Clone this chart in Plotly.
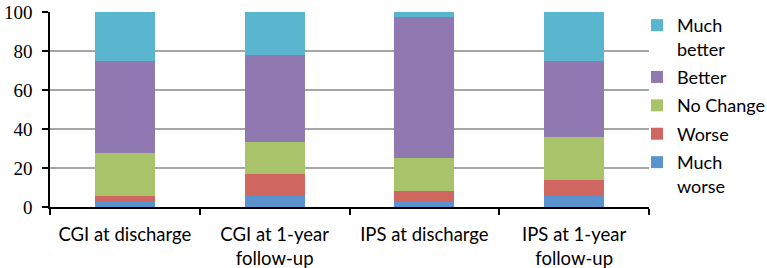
import plotly.graph_objects as go

categories = ["CGI at discharge", "CGI at 1-year<br>follow-up", "IPS at discharge", "IPS at 1-year<br>follow-up"]
much_worse = [2.8, 5.6, 2.8, 5.6]
worse = [2.8, 11.1, 5.6, 8.3]
no_change = [22.2, 16.7, 16.7, 22.2]
better = [47.2, 44.4, 72.2, 38.9]
much_better = [25.0, 22.2, 2.8, 25.0]

series = [
    ("Much<br>worse", much_worse, "#5B93CF"),
    ("Worse", worse, "#CF6660"),
    ("No Change", no_change, "#A8C36A"),
    ("Better", better, "#9079B0"),
    ("Much<br>better", much_better, "#5AB6CF"),
]

fig = go.Figure()
n = len(series)
for i, (name, vals, color) in enumerate(series):
    fig.add_trace(go.Bar(x=categories, y=vals, name=name, legendgroup=f"g{i}",
                         legendrank=n - i,
                         marker=dict(color=color, line=dict(width=0))))

fig.update_layout(
    barmode="stack",
    bargap=0.6,
    width=767,
    height=268,
    margin=dict(l=50, r=118, t=12, b=61, autoexpand=False),
    paper_bgcolor="white",
    plot_bgcolor="white",
    font=dict(family="Lato", size=19, color="black"),
    legend=dict(
        traceorder="grouped",
        tracegroupgap=2,
        x=0.98, xanchor="left",
        y=1.026, yanchor="top",
        valign="top",
        maxheight=250,
        font=dict(family="Lato", size=18),
        bgcolor="rgba(0,0,0,0)",
    ),
    xaxis=dict(
        automargin=False,
        showline=True, linecolor="black", linewidth=1.5,
        ticks="outside", tickson="boundaries", ticklen=6, tickcolor="black", tickwidth=1.5,
        showgrid=False,
        ticklabelstandoff=10,
        tickfont=dict(family="Lato", size=18.5),
    ),
    yaxis=dict(
        automargin=False,
        range=[0, 100.01], tickvals=[0, 20, 40, 60, 80, 100],
        showline=True, linecolor="black", linewidth=1.5,
        ticks="outside", ticklen=6, tickcolor="black", tickwidth=1.5,
        showgrid=True, gridcolor="#A6A6A6", gridwidth=1.5,
        zeroline=False,
        ticklabeloverflow="allow",
        ticklabelstandoff=6,
        tickfont=dict(family="Liberation Serif", size=19),
    ),
)

fig.write_html("out.html", config={"displayModeBar": False},
               post_script="document.body.style.margin='0';")
